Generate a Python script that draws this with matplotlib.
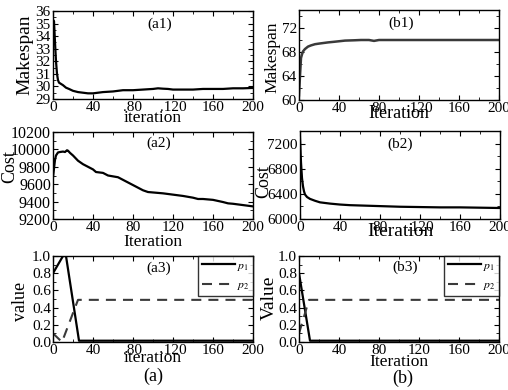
import matplotlib
matplotlib.use("Agg")
import matplotlib.pyplot as plt
from matplotlib.ticker import AutoMinorLocator, FixedLocator

plt.rcParams['font.family'] = ['Liberation Serif', 'DejaVu Serif']
plt.rcParams['mathtext.fontset'] = 'stix'

# ---------------- data ----------------
a1_x = [0, 1, 2, 3, 4, 5, 6, 8, 10, 13, 16, 20, 25, 30, 35, 40, 45, 50, 60, 70, 80, 90,
        100, 105, 110, 115, 120, 130, 140, 150, 160, 170, 180, 190, 200]
a1_y = [35.3, 35.2, 33.5, 32.0, 31.0, 30.5, 30.3, 30.2, 30.1, 29.9, 29.8, 29.65, 29.55, 29.5,
        29.45, 29.45, 29.5, 29.55, 29.6, 29.7, 29.7, 29.75, 29.8, 29.85, 29.82, 29.8, 29.75,
        29.75, 29.75, 29.8, 29.8, 29.8, 29.85, 29.85, 29.88]

b1_x = [0, 1, 2, 3, 4, 6, 9, 12, 16, 20, 29, 35, 46, 55, 62, 70, 75, 80, 100, 120, 140, 160, 180, 200]
b1_y = [60.8, 64.0, 67.0, 67.6, 68.1, 68.5, 68.9, 69.1, 69.3, 69.4, 69.6, 69.7, 69.9, 69.95,
        70.0, 70.0, 69.85, 70.0, 70.0, 70.0, 70.0, 70.0, 70.0, 70.0]

a2_x = [0, 1, 2, 3, 5, 7, 10, 12, 14, 15, 17, 20, 25, 30, 35, 40, 43, 50, 55, 60, 65, 70, 75,
        80, 85, 90, 95, 100, 110, 120, 130, 140, 145, 150, 160, 170, 175, 180, 190, 200]
a2_y = [9680, 9780, 9880, 9930, 9965, 9970, 9975, 9970, 9990, 9985, 9960, 9930, 9870, 9830,
        9800, 9770, 9740, 9730, 9700, 9690, 9680, 9650, 9620, 9590, 9560, 9530, 9510, 9505,
        9495, 9480, 9465, 9445, 9430, 9430, 9420, 9395, 9380, 9375, 9360, 9345]

b2_x = [0, 1, 2, 3, 4, 5, 7, 10, 15, 20, 30, 40, 50, 60, 80, 100, 120, 140, 160, 180, 200]
b2_y = [7300, 6900, 6650, 6520, 6440, 6390, 6350, 6320, 6290, 6265, 6245, 6230, 6220, 6215,
        6205, 6195, 6190, 6185, 6185, 6180, 6175]

a3_x = [0, 10, 13, 26, 200]
a3_p1 = [0.8, 1.0, 1.0, 0.015, 0.015]
a3_p2_x = [0, 9, 25, 200]
a3_p2 = [0.1, 0.0, 0.49, 0.49]

b3_x = [0, 11, 200]
b3_p1 = [0.8, 0.015, 0.015]
b3_p2_x = [0, 10, 200]
b3_p2 = [0.1, 0.49, 0.49]

xticks = [0, 40, 80, 120, 160, 200]
labels_dot2 = ['0', '40', '.80', '.120', '160', '200']
labels_dot1 = ['0', '40', '80', '.120', '160', '200']
labels_plain = ['0', '40', '80', '120', '160', '200']

# ---------------- figure ----------------
W, H = 508, 390
fig = plt.figure(figsize=(W / 100, H / 100), dpi=100)


def rect(l, t, r, b):
    return [l / W, 1 - b / H, (r - l) / W, (b - t) / H]


def style(ax, ylim, yticks, ylabels, xlabels, ysize=11):
    ax.set_xlim(0, 200)
    ax.set_ylim(*ylim)
    ax.xaxis.set_major_locator(FixedLocator(xticks))
    ax.set_xticklabels(xlabels, fontsize=11)
    ax.yaxis.set_major_locator(FixedLocator(yticks))
    ax.set_yticklabels(ylabels, fontsize=ysize)
    ax.xaxis.set_minor_locator(AutoMinorLocator(2))
    ax.yaxis.set_minor_locator(AutoMinorLocator(2))
    ax.tick_params(which='both', direction='in', top=True, right=True, pad=1.5)
    ax.tick_params(which='major', length=3.5, width=0.8)
    ax.tick_params(which='minor', length=2, width=0.6)
    for s in ax.spines.values():
        s.set_linewidth(1.0)


def add_legend(ax):
    leg = ax.legend(loc='upper right', fontsize=8.5, frameon=True, fancybox=False,
                    borderaxespad=0, borderpad=0.3, handlelength=2.8, handletextpad=0.15,
                    labelspacing=0.55, edgecolor='black')
    leg.get_frame().set_linewidth(1.0)
    return leg


# a1
ax = fig.add_axes(rect(53, 11, 253, 99))
ax.plot(a1_x, a1_y, color='black', lw=1.6)
style(ax, (29, 36), list(range(29, 37)), [str(v) for v in range(29, 37)], labels_dot2)
ax.set_ylabel('Makespan', fontsize=14)
ax.yaxis.set_label_coords(-0.1, 0.5)
ax.set_xlabel('iteration', fontsize=12.5)
ax.xaxis.set_label_coords(0.5, -0.125)
ax.text(0.535, 0.85, '(a1)', transform=ax.transAxes, ha='center', va='center', fontsize=11)

# b1
ax = fig.add_axes(rect(299, 10, 499, 100))
ax.plot(b1_x, b1_y, color='#3a3a3a', lw=1.8)
style(ax, (60, 75), [60, 64, 68, 72], ['60', '64', '68', '72'], labels_dot1)
ax.set_ylabel('Makespan', fontsize=12.5)
ax.yaxis.set_label_coords(-0.095, 0.47)
ax.set_xlabel('Iteration', fontsize=13)
ax.xaxis.set_label_coords(0.5, -0.05)
ax.text(0.51, 0.855, '(b1)', transform=ax.transAxes, ha='center', va='center', fontsize=11)

# a2
ax = fig.add_axes(rect(53, 132, 253, 219))
ax.plot(a2_x, a2_y, color='black', lw=1.6)
style(ax, (9200, 10200), list(range(9200, 10201, 200)),
      [str(v) for v in range(9200, 10201, 200)], labels_plain, ysize=11.5)
ax.set_ylabel('Cost', fontsize=13)
ax.yaxis.set_label_coords(-0.175, 0.6)
ax.set_xlabel('Iteration', fontsize=12.5)
ax.xaxis.set_label_coords(0.5, -0.172)
ax.text(0.53, 0.87, '(a2)', transform=ax.transAxes, ha='center', va='center', fontsize=11)

# b2
ax = fig.add_axes(rect(300, 131, 500, 219))
ax.plot(b2_x, b2_y, color='black', lw=1.6)
style(ax, (6000, 7400), [6000, 6400, 6800, 7200], ['6000', '6400', '6800', '7200'], labels_dot1)
ax.set_ylabel('Cost', fontsize=13)
ax.yaxis.set_label_coords(-0.14, 0.42)
ax.set_xlabel('Iteration', fontsize=14)
ax.xaxis.set_label_coords(0.5, -0.04)
ax.text(0.5, 0.85, '(b2)', transform=ax.transAxes, ha='center', va='center', fontsize=11)

# a3
ax = fig.add_axes(rect(53, 256, 253, 342))
ax.plot(a3_x, a3_p1, color='black', lw=1.6, label=r'$p_1$')
ax.plot(a3_p2_x, a3_p2, color='#3a3a3a', lw=1.5, ls=(0, (4.8, 3.4)), label=r'$p_2$')
vt = [0.0, 0.2, 0.4, 0.6, 0.8, 1.0]
style(ax, (0, 1.0), vt, ['%.1f' % v for v in vt], labels_dot2)
ax.set_ylabel('value', fontsize=13)
ax.yaxis.set_label_coords(-0.12, 0.47)
ax.set_xlabel('iteration', fontsize=12.5)
ax.xaxis.set_label_coords(0.5, -0.095)
ax.text(0.53, 0.86, '(a3)', transform=ax.transAxes, ha='center', va='center', fontsize=11)
add_legend(ax)
fig.text(153 / W, 1 - 376 / H, '(a)', ha='center', va='center', fontsize=13)

# b3
ax = fig.add_axes(rect(299, 256, 499, 342))
ax.plot(b3_x, b3_p1, color='black', lw=1.6, label=r'$p_1$')
ax.plot(b3_p2_x, b3_p2, color='#3a3a3a', lw=1.5, ls=(0, (4.8, 3.4)), label=r'$p_2$')
style(ax, (0, 1.0), vt, ['%.1f' % v for v in vt], labels_plain)
ax.set_ylabel('Value', fontsize=14)
ax.yaxis.set_label_coords(-0.105, 0.51)
ax.set_xlabel('Iteration', fontsize=12.5)
ax.xaxis.set_label_coords(0.5, -0.14)
ax.text(0.53, 0.87, '(b3)', transform=ax.transAxes, ha='center', va='center', fontsize=11)
add_legend(ax)
fig.text(403 / W, 1 - 378 / H, '(b)', ha='center', va='center', fontsize=13)

fig.savefig('out.png', dpi=100)
